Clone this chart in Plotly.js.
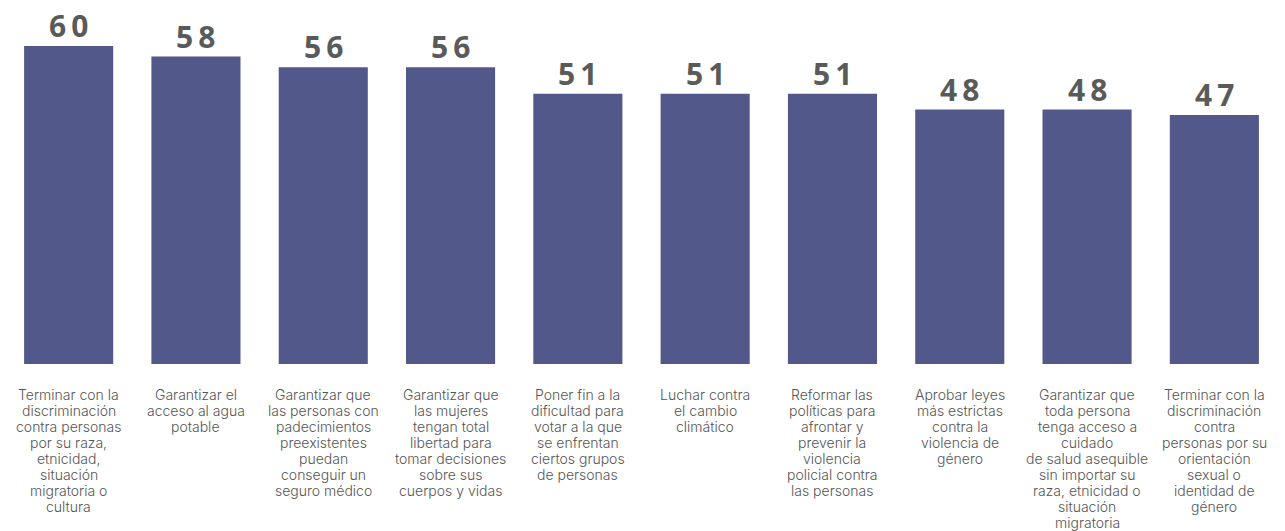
<!DOCTYPE html>
<html>
<head>
<meta charset="utf-8">
<script src="https://cdn.plot.ly/plotly-3.0.1.min.js"></script>
<style>html,body{margin:0;padding:0;background:#fff;}#chart{width:1285px;height:531px;}</style>
</head>
<body>
<div id="chart"></div>
<script>
const categories = [
  "Terminar con la<br>discriminación<br>contra personas<br>por su raza,<br>etnicidad,<br>situación<br>migratoria o<br>cultura",
  "Garantizar el<br>acceso al agua<br>potable",
  "Garantizar que<br>las personas con<br>padecimientos<br>preexistentes<br>puedan<br>conseguir un<br>seguro médico",
  "Garantizar que<br>las mujeres<br>tengan total<br>libertad para<br>tomar decisiones<br>sobre sus<br>cuerpos y vidas",
  "Poner fin a la<br>dificultad para<br>votar a la que<br>se enfrentan<br>ciertos grupos<br>de personas",
  "Luchar contra<br>el cambio<br>climático",
  "Reformar las<br>políticas para<br>afrontar y<br>prevenir la<br>violencia<br>policial contra<br>las personas",
  "Aprobar leyes<br>más estrictas<br>contra la<br>violencia de<br>género",
  "Garantizar que<br>toda persona<br>tenga acceso a<br>cuidado<br>de salud asequible<br>sin importar su<br>raza, etnicidad o<br>situación<br>migratoria",
  "Terminar con la<br>discriminación<br>contra<br>personas por su<br>orientación<br>sexual o<br>identidad de<br>género"
];
const values = [60, 58, 56, 56, 51, 51, 51, 48, 48, 47];

const ids = categories.map((c, i) => "c" + i);
const labels = values.map(v => String(v).split("").join("\u2009"));

const trace = {
  type: "bar",
  x: ids,
  y: values,
  marker: {color: "#52598a"},
  hoverinfo: "none"
};

const annotations = [];
// value labels above bars
values.forEach((v, i) => {
  annotations.push({
    x: ids[i], xref: "x",
    y: v, yref: "y",
    yanchor: "bottom", xanchor: "center",
    yshift: -2,
    text: labels[i],
    showarrow: false,
    font: {family: "Open Sans, sans-serif", size: 30, color: "#5a5a5a", weight: 700}
  });
});
// category labels drawn line by line (tighter line spacing than tick labels allow)
categories.forEach((cat, i) => {
  cat.split("<br>").forEach((line, j) => {
    annotations.push({
      x: ids[i], xref: "x",
      y: 0, yref: "y",
      yanchor: "middle", xanchor: "center",
      yshift: -(30 + 16.1 * j),
      text: line,
      showarrow: false,
      font: {family: "Inter, sans-serif", size: 14, color: "#555555", weight: 300}
    });
  });
});

const layout = {
  width: 1285,
  height: 531,
  margin: {l: 5, r: 7, t: 0, b: 167},
  paper_bgcolor: "#ffffff",
  plot_bgcolor: "#ffffff",
  bargap: 0.3,
  showlegend: false,
  annotations: annotations,
  xaxis: {
    type: "category",
    showticklabels: false,
    ticks: "",
    showline: false,
    showgrid: false,
    zeroline: false
  },
  yaxis: {
    range: [0, 68.68],
    visible: false,
    showgrid: false,
    zeroline: false
  }
};

Plotly.newPlot("chart", [trace], layout, {staticPlot: true, displayModeBar: false});
</script>
</body>
</html>
